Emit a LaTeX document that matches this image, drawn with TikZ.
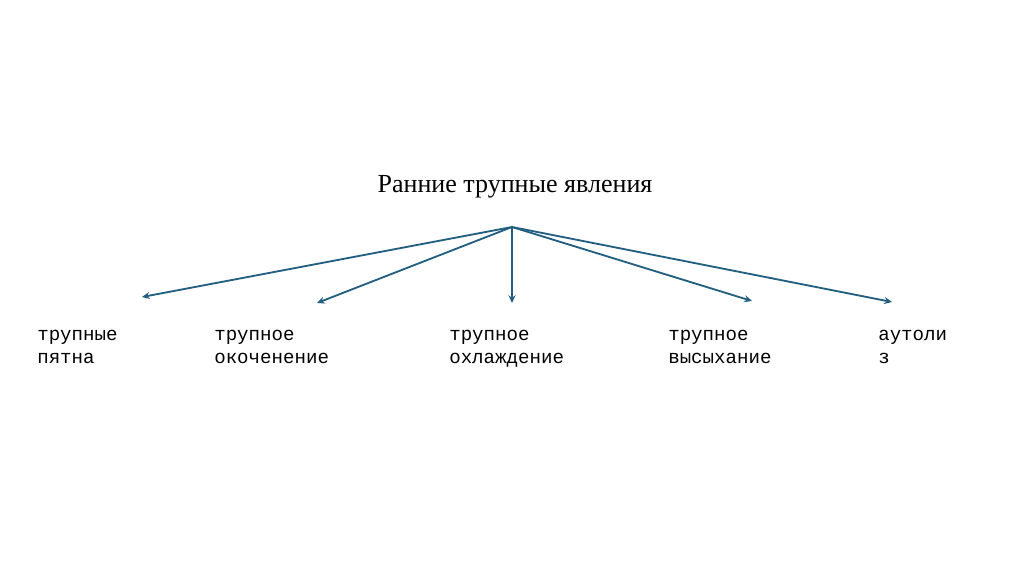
\documentclass[tikz,border=0pt]{standalone}
\usepackage{fontspec}
\setmainfont{Liberation Serif}
\setmonofont{Liberation Mono}
\usetikzlibrary{arrows.meta}
\definecolor{arrowblue}{RGB}{35,95,128}

\tikzset{
  leaf/.style={font=\ttfamily\fontsize{13.6}{15.8}\selectfont, align=left, anchor=base west, inner sep=0pt},
  branch/.style={arrowblue, line width=1.3pt, -{Stealth[length=5.5pt,width=5pt]}}
}

\begin{document}
\begin{tikzpicture}[x=0.025cm,y=-0.025cm]
\useasboundingbox[fill=white] (0,0) rectangle (1024,574);
% title and hub
\node[font=\fontsize{18.5}{22}\selectfont, anchor=base, inner sep=0pt] (title) at (515,192) {Ранние трупные явления};
\coordinate (hub) at (512,227);

% leaves
\node[leaf] (pyatna) at (37,363) {трупные\\пятна};
\node[leaf] (okochenenie) at (214,363) {трупное\\окоченение};
\node[leaf] (okhlazhdenie) at (449,363) {трупное\\охлаждение};
\node[leaf] (vysykhanie) at (668,363) {трупное\\высыхание};
\node[leaf] (autoliz) at (878,363) {аутоли\\з};

% arrow tips
\coordinate (tip1) at (142,297);
\coordinate (tip2) at (317,303);
\coordinate (tip3) at (512,303);
\coordinate (tip4) at (752,301);
\coordinate (tip5) at (892,302);

\foreach \t in {tip1,tip2,tip3,tip4,tip5}
  \draw[branch] (hub) -- (\t);
\end{tikzpicture}
\end{document}
